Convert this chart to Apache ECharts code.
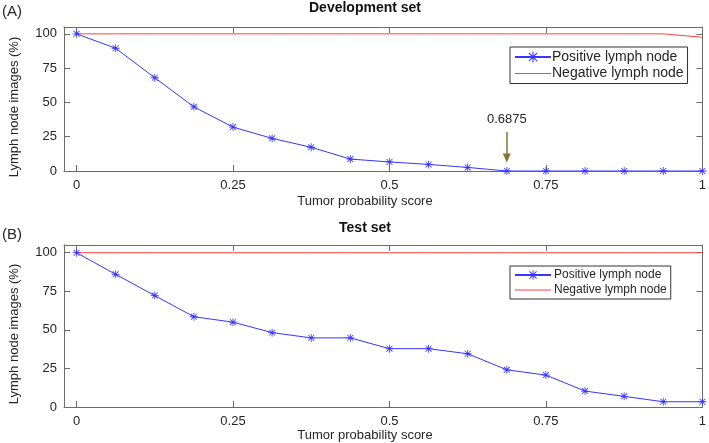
<!DOCTYPE html>
<html>
<head>
<meta charset="utf-8">
<script src="https://cdn.jsdelivr.net/npm/echarts@6/dist/echarts.min.js"></script>
<style>
html,body{margin:0;padding:0;background:#fff;}
#chart{width:709px;height:443px;}
</style>
</head>
<body>
<div id="chart"></div>
<script>
// ---- data ----
var scores = [0, 0.0625, 0.125, 0.1875, 0.25, 0.3125, 0.375, 0.4375, 0.5, 0.5625, 0.625, 0.6875, 0.75, 0.8125, 0.875, 0.9375, 1];
var devPositive = [100, 89.5, 68, 46.8, 32, 23.8, 17.3, 8.7, 6.6, 4.8, 2.6, 0, 0, 0, 0, 0, 0];
var devNegative = [100, 100, 100, 100, 100, 100, 100, 100, 100, 100, 100, 100, 100, 100, 100, 100, 97.5];
var testPositive = [100, 86, 72.2, 58.5, 55, 48.2, 44.8, 44.8, 37.8, 37.8, 34.5, 24.1, 20.7, 10.3, 6.9, 3.4, 3.4];
var testNegative = [100, 100, 100, 100, 100, 100, 100, 100, 100, 100, 100, 100, 100, 100, 100, 100, 100];
var xTicks = [0, 0.25, 0.5, 0.75, 1];
var yTicks = [0, 25, 50, 75, 100];
var thresholdScore = 0.6875;
var seriesNames = ['Positive lymph node', 'Negative lymph node'];

function pairs(ys) { return scores.map(function (x, i) { return [x, ys[i]]; }); }

var FONT = 'Liberation Sans, Arial, sans-serif';
var TXT = '#262626';
var AX = '#6b6b6b';
var BLUE = '#3535ff';
var RED = '#ff4040';
var STAR = 'path://M9,0L11,0L11,20L9,20Z M0,9L20,9L20,11L0,11Z M1.9,3.3L3.3,1.9L18.1,16.7L16.7,18.1Z M16.7,1.9L18.1,3.3L3.3,18.1L1.9,16.7Z';
var LINE_ICON = 'path://M0,0L36,0L36,1L0,1Z';

function xLabelFmt(v) { return String(v); }

function makeX(gi, pos) {
  return {
    type: 'value', gridIndex: gi, position: pos, min: -0.02, max: 1,
    axisLine: { show: true, onZero: false, lineStyle: { color: AX, width: 1 } },
    axisTick: { show: true, inside: true, length: 6, customValues: xTicks, lineStyle: { color: AX } },
    axisLabel: { show: pos === 'bottom', customValues: xTicks, margin: 8, color: TXT, fontSize: 13, fontFamily: FONT, formatter: xLabelFmt },
    splitLine: { show: false }
  };
}
function makeY(gi, pos) {
  return {
    type: 'value', gridIndex: gi, position: pos, min: 0, max: 105,
    axisLine: { show: true, onZero: false, lineStyle: { color: AX, width: 1 } },
    axisTick: { show: true, inside: true, length: 6, customValues: yTicks, lineStyle: { color: AX } },
    axisLabel: { show: pos === 'left', customValues: yTicks, margin: 7, color: TXT, fontSize: 13, fontFamily: FONT },
    splitLine: { show: false }
  };
}

function posSeries(name, ys, xi, yi, extra) {
  var s = {
    name: name, type: 'line', xAxisIndex: xi, yAxisIndex: yi, data: pairs(ys),
    symbol: STAR, symbolSize: 8, showSymbol: true,
    lineStyle: { color: BLUE, width: 1 }, itemStyle: { color: BLUE },
    emphasis: { disabled: true }, z: 3
  };
  if (extra) s.markLine = extra;
  return s;
}
function negSeries(name, ys, xi, yi) {
  return {
    name: name, type: 'line', xAxisIndex: xi, yAxisIndex: yi, data: pairs(ys),
    symbol: 'none', lineStyle: { color: RED, width: 1 }, itemStyle: { color: RED },
    emphasis: { disabled: true }, z: 2
  };
}

var arrowMark = {
  silent: true, animation: false,
  symbol: ['none', 'triangle'], symbolSize: [8, 9],
  lineStyle: { color: '#8a7230', width: 1.5, type: 'solid' },
  label: { show: true, position: 'start', distance: 6, formatter: String(thresholdScore), color: TXT, fontSize: 13, fontFamily: FONT },
  data: [[{ coord: [thresholdScore, 28.5] }, { coord: [thresholdScore, 9.5] }]]
};

var legendData = [{ name: seriesNames[0] }, { name: seriesNames[1], icon: LINE_ICON }];

var chart = echarts.init(document.getElementById('chart'), null, { renderer: 'canvas' });
var option = {
  animation: false,
  backgroundColor: '#fff',
  textStyle: { fontFamily: FONT },
  grid: [
    { left: 64, right: 6, top: 27, height: 144, show: false },
    { left: 64, right: 6, top: 245, height: 162, show: false }
  ],
  xAxis: [makeX(0, 'bottom'), makeX(0, 'top'), makeX(1, 'bottom'), makeX(1, 'top')],
  yAxis: [makeY(0, 'left'), makeY(0, 'right'), makeY(1, 'left'), makeY(1, 'right')],
  legend: [
    { show: true, orient: 'vertical', left: 510, top: 47, data: legendData, itemWidth: 36, itemHeight: 14, itemGap: 2.5,
      padding: [3, 4, 3, 4], borderColor: '#333', borderWidth: 1, backgroundColor: '#fff', selectedMode: false,
      textStyle: { fontSize: 14, color: TXT, fontFamily: FONT, padding: [0, 0, 0, -4] } },
    { show: true, orient: 'vertical', left: 510, top: 266, data: legendData, itemWidth: 36, itemHeight: 12, itemGap: 3,
      padding: [3, 4, 3, 4], borderColor: '#333', borderWidth: 1, backgroundColor: '#fff', selectedMode: false,
      textStyle: { fontSize: 12, color: TXT, fontFamily: FONT, padding: [0, 0, 0, -2] } }
  ],
  series: [
    posSeries(seriesNames[0], devPositive, 0, 0, arrowMark),
    negSeries(seriesNames[1], devNegative, 0, 0),
    posSeries(seriesNames[0], testPositive, 2, 2),
    negSeries(seriesNames[1], testNegative, 2, 2)
  ],
  graphic: [
    { type: 'text', x: 2, y: 12, style: { text: '(A)', font: '15px ' + FONT, fill: TXT, verticalAlign: 'middle', textVerticalAlign: 'middle' } },
    { type: 'text', x: 365, y: 8, style: { text: 'Development set', font: 'bold 14px ' + FONT, fill: '#111', align: 'center', textAlign: 'center', verticalAlign: 'middle', textVerticalAlign: 'middle' } },
    { type: 'text', x: 365, y: 201, style: { text: 'Tumor probability score', font: '13px ' + FONT, fill: TXT, align: 'center', textAlign: 'center', verticalAlign: 'middle', textVerticalAlign: 'middle' } },
    { type: 'text', x: 14, y: 107, rotation: Math.PI / 2, style: { text: 'Lymph node images (%)', font: '13px ' + FONT, fill: TXT, align: 'center', textAlign: 'center', verticalAlign: 'middle', textVerticalAlign: 'middle' } },
    { type: 'text', x: 2, y: 235, style: { text: '(B)', font: '15px ' + FONT, fill: TXT, verticalAlign: 'middle', textVerticalAlign: 'middle' } },
    { type: 'text', x: 365, y: 228, style: { text: 'Test set', font: 'bold 14px ' + FONT, fill: '#111', align: 'center', textAlign: 'center', verticalAlign: 'middle', textVerticalAlign: 'middle' } },
    { type: 'text', x: 365, y: 435, style: { text: 'Tumor probability score', font: '13px ' + FONT, fill: TXT, align: 'center', textAlign: 'center', verticalAlign: 'middle', textVerticalAlign: 'middle' } },
    { type: 'text', x: 14, y: 334, rotation: Math.PI / 2, style: { text: 'Lymph node images (%)', font: '13px ' + FONT, fill: TXT, align: 'center', textAlign: 'center', verticalAlign: 'middle', textVerticalAlign: 'middle' } }
  ]
};
chart.setOption(option);
</script>
</body>
</html>
